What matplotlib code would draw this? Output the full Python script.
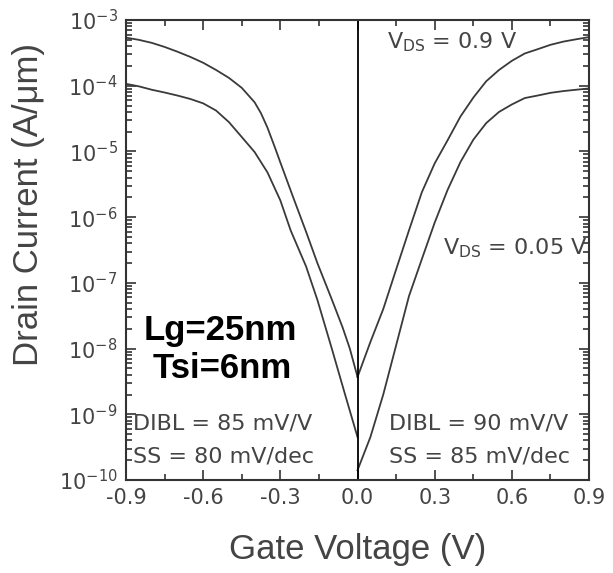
import numpy as np
import matplotlib
matplotlib.use('Agg')
import matplotlib.pyplot as plt
from matplotlib.ticker import LogLocator, MultipleLocator, NullFormatter

plt.rcParams['font.family'] = ['Liberation Sans', 'DejaVu Sans']

# p-side (negative gate voltage)
vg_p_09 = [-0.9, -0.85, -0.8, -0.75, -0.7, -0.65, -0.6, -0.55, -0.5, -0.45, -0.4,
           -0.375, -0.35, -0.32, -0.3, -0.25, -0.2, -0.156, -0.1, -0.058, -0.03, 0.0]
id_p_09 = [5.4e-4, 5.0e-4, 4.5e-4, 3.9e-4, 3.3e-4, 2.75e-4, 2.24e-4, 1.74e-4, 1.32e-4, 9.3e-5, 5.6e-5,
           3.8e-5, 2.3e-5, 1.12e-5, 6.8e-6, 2.0e-6, 6.0e-7, 2.0e-7, 5.6e-8, 2.1e-8, 1.0e-8, 3.7e-9]

vg_p_005 = [-0.9, -0.85, -0.8, -0.75, -0.7, -0.65, -0.6, -0.55, -0.5, -0.45, -0.4,
            -0.35, -0.3, -0.26, -0.2, -0.156, -0.1, -0.05, 0.0]
id_p_005 = [1.07e-4, 9.8e-5, 8.7e-5, 7.9e-5, 7.1e-5, 6.3e-5, 5.4e-5, 4.2e-5, 2.8e-5, 1.66e-5, 9.8e-6,
            4.8e-6, 1.8e-6, 6.3e-7, 1.78e-7, 5.5e-8, 1.0e-8, 2.1e-9, 4.5e-10]

# n-side (positive gate voltage)
vg_n_09 = [0.0, 0.05, 0.1, 0.15, 0.2, 0.25, 0.3, 0.35, 0.4, 0.45,
           0.5, 0.55, 0.6, 0.65, 0.7, 0.75, 0.8, 0.85, 0.9]
id_n_09 = [3.7e-9, 1.26e-8, 4.0e-8, 1.6e-7, 6.3e-7, 2.4e-6, 6.6e-6, 1.48e-5, 3.4e-5, 6.6e-5,
           1.17e-4, 1.74e-4, 2.4e-4, 3.1e-4, 3.6e-4, 4.2e-4, 4.7e-4, 5.1e-4, 5.5e-4]

vg_n_005 = [0.0, 0.05, 0.1, 0.15, 0.2, 0.25, 0.3, 0.35, 0.4, 0.45,
            0.5, 0.55, 0.6, 0.65, 0.7, 0.75, 0.8, 0.85, 0.9]
id_n_005 = [1.41e-10, 4.5e-10, 2.0e-9, 1.12e-8, 6.3e-8, 2.3e-7, 8.3e-7, 2.6e-6, 6.9e-6, 1.51e-5,
            2.7e-5, 4.0e-5, 5.2e-5, 6.5e-5, 7.1e-5, 7.8e-5, 8.3e-5, 8.7e-5, 9.1e-5]

xticks = [-0.9, -0.6, -0.3, 0.0, 0.3, 0.6, 0.9]
xticklabels = ['-0.9', '-0.6', '-0.3', '0.0', '0.3', '0.6', '0.9']

fig = plt.figure(figsize=(6.13, 5.73), dpi=100)
ax = fig.add_axes([0.2055, 0.1623, 0.7555, 0.8027])

lc = '#3a3a3a'
for v, i in [(vg_p_09, id_p_09), (vg_p_005, id_p_005), (vg_n_09, id_n_09), (vg_n_005, id_n_005)]:
    ax.plot(v, i, color=lc, lw=1.3, solid_joinstyle='round')

ax.axvline(0, color='black', lw=1.3)

ax.set_yscale('log')
ax.set_xlim(-0.9, 0.9)
ax.set_ylim(1e-10, 1e-3)
ax.set_xticks(xticks)
ax.set_xticklabels(xticklabels)
ax.xaxis.set_minor_locator(MultipleLocator(0.15))
ax.yaxis.set_major_locator(LogLocator(base=10, numticks=20))
ax.yaxis.set_minor_locator(LogLocator(base=10, subs=np.arange(2, 10), numticks=20))
ax.yaxis.set_minor_formatter(NullFormatter())

tc = '#444444'
ax.tick_params(which='both', direction='in', top=True, right=True, colors='#333333',
               labelcolor=tc, labelsize=15, width=1.2)
ax.tick_params(which='major', length=7, pad=6)
ax.tick_params(which='minor', length=4)
for lab in ax.get_xticklabels() + ax.get_yticklabels():
    lab.set_family('DejaVu Sans')
for s in ax.spines.values():
    s.set_color('#333333')
    s.set_linewidth(1.5)

ax.set_xlabel('Gate Voltage (V)', fontsize=25, color=tc, labelpad=18)
ax.set_ylabel('Drain Current (A/\u03bcm)', fontsize=25, color=tc)
ax.yaxis.set_label_coords(-0.175, 0.598)

small = dict(transform=ax.transAxes, fontsize=16, color=tc, va='center', ha='left',
             family='DejaVu Sans')
ax.text(0.564, 0.952, r'V$_{\mathrm{DS}}$ = 0.9 V', **small)
ax.text(0.685, 0.504, r'V$_{\mathrm{DS}}$ = 0.05 V', clip_on=True, **small)
ax.text(0.568, 0.123, 'DIBL = 90 mV/V', clip_on=True, **small)
ax.text(0.568, 0.052, 'SS = 85 mV/dec', clip_on=True, **small)
ax.text(0.015, 0.123, 'DIBL = 85 mV/V', **small)
ax.text(0.015, 0.052, 'SS = 80 mV/dec', **small)

ax.text(0.203, 0.326, 'Lg=25nm', transform=ax.transAxes, fontsize=25,
        fontweight='bold', color='black', ha='center', va='center')
ax.text(0.207, 0.243, 'Tsi=6nm', transform=ax.transAxes, fontsize=25,
        fontweight='bold', color='black', ha='center', va='center')

fig.savefig('out.png', dpi=100)
